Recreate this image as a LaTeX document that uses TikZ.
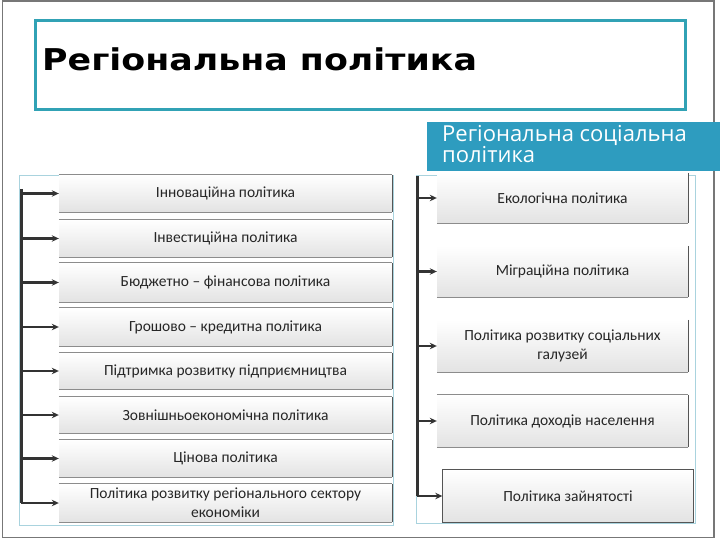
\documentclass[tikz,border=0pt]{standalone}
\usepackage{fontspec}
\setmainfont{Carlito}
\newfontfamily\titlefont{DejaVu Sans}
\newfontfamily\subfont{Open Sans}
\usetikzlibrary{arrows.meta}
\definecolor{tealframe}{HTML}{31A2B5}
\definecolor{banner}{HTML}{2E9CBF}
\definecolor{groupframe}{HTML}{A9D3DE}
\definecolor{edge}{HTML}{555555}
\definecolor{conn}{HTML}{333333}
\tikzset{
  pbox/.style={minimum height=#1, inner sep=2pt, align=center,
    top color=white, bottom color=black!11, draw=none, text=black!85,
    font=\fontsize{15.5}{19}\selectfont},
  lbox/.style={pbox=#1, minimum width=333},
  rbox/.style={pbox=#1, minimum width=251},
  boxedge/.style={draw=edge, line width=1pt},
  boxtop/.style={draw=black!45, line width=0.8pt},
  arr/.style={draw=conn, line width=2.2pt, -{Stealth[length=7pt,width=6.5pt]}},
  trunk/.style={draw=conn, line width=3pt},
}
\begin{document}
\begin{tikzpicture}[x=1pt,y=-1pt]
\useasboundingbox (0,0) rectangle (720,540);
\fill[white] (0,0) rectangle (720,540);
% slide border
\draw[edge!80, line width=1.5pt] (2.5,1) rectangle (714,537.5);
% title box
\draw[tealframe, line width=3pt, fill=white] (35,21) rectangle (685,110);
\node[anchor=base west, inner sep=0pt, font=\titlefont\bfseries\fontsize{30}{36}\selectfont] (title) at (42,71) {\scalebox{1.16}[1]{Регіональна політика}};
% group frames
\draw[groupframe, line width=0.8pt] (19,175) rectangle (393,525);
\draw[groupframe, line width=0.8pt] (416,175) rectangle (695,523);
% banner
\fill[banner] (427,122) rectangle (720,171);
\node[anchor=base west, inner sep=0pt, text=white, font=\subfont\fontsize{22}{21}\selectfont] (sub1) at (442,142) {Регіональна соціальна};
\node[anchor=base west, inner sep=0pt, text=white, font=\subfont\fontsize{22}{21}\selectfont] (sub2) at (442,163) {політика};
% left boxes
\node[lbox=37] (l1) at (225.5,193.5) {Інноваційна політика};
\node[lbox=37] (l2) at (225.5,238.5) {Інвестиційна політика};
\node[lbox=39] (l3) at (225.5,282.5) {Бюджетно – фінансова політика};
\node[lbox=38] (l4) at (225.5,327) {Грошово – кредитна політика};
\node[lbox=36] (l5) at (225.5,371) {Підтримка розвитку підприємництва};
\node[lbox=36] (l6) at (225.5,415) {Зовнішньоекономічна політика};
\node[lbox=37] (l7) at (225.5,458.5) {Цінова політика};
\node[lbox=38] (l8) at (225.5,503) {Політика розвитку регіонального сектору\\економіки};
\foreach \n in {l1,l2,l3,l4,l5,l6,l7,l8}{
  \draw[boxtop] (\n.north west) -- (\n.north east);
  \draw[boxedge] (\n.north east) -- (\n.south east);
  \draw[boxtop] (\n.south west) -- (\n.south east);
}
% right boxes
\node[rbox=50] (r1) at (562.5,198) {Екологічна політика};
\node[rbox=51] (r2) at (562.5,271.5) {Міграційна політика};
\node[rbox=52] (r3) at (562.5,346) {Політика розвитку соціальних\\галузей};
\node[rbox=52] (r4) at (562.5,421) {Політика доходів населення};
\node[rbox=52] (r5) at (568,496) {Політика зайнятості};
\foreach \n in {r1,r2,r3,r4}{
  \draw[boxedge] (\n.north east) -- (\n.south east);
  \draw[boxtop] (\n.south west) -- (\n.south east);
}
\draw[boxtop] (r4.north west) -- (r4.north east);
\draw[boxedge] (r5.north west) rectangle (r5.south east);
% connectors left
\coordinate (ltop) at (21,189);
\draw[trunk] (ltop) -- (ltop |- l8.west);
\foreach \n in {l1,l2,l3,l4,l5,l6,l7,l8}{
  \draw[arr] (ltop |- \n.west) -- (\n.west);
}
% connectors right
\coordinate (rtop) at (417,176);
\draw[trunk] (rtop) -- (rtop |- r5.west);
\foreach \n in {r1,r2,r3,r4,r5}{
  \draw[arr] (rtop |- \n.west) -- (\n.west);
}
\end{tikzpicture}
\end{document}
